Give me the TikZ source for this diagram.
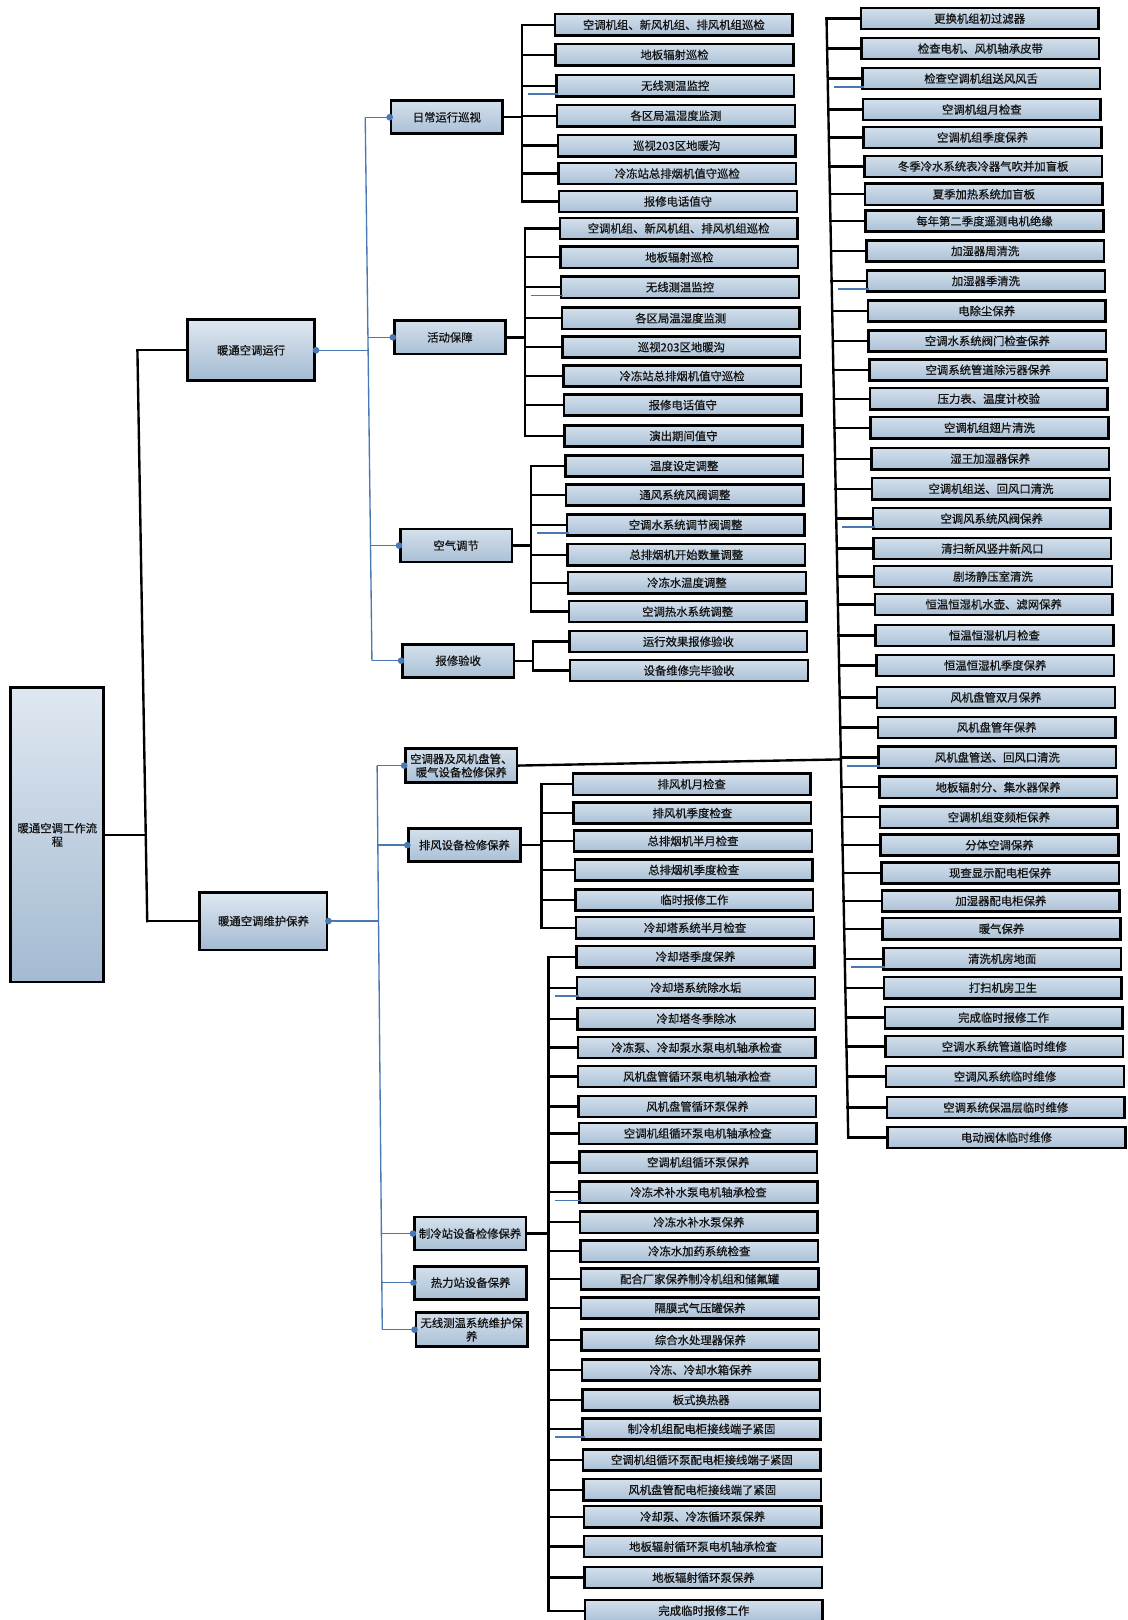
\documentclass[tikz,border=0pt]{standalone}
\usepackage{fontspec}
\setmainfont{Noto Sans CJK SC}[FakeBold=0.7]
\usetikzlibrary{calc}
\definecolor{fillhi}{HTML}{D4E0EC}
\definecolor{filllo}{HTML}{AAC0D6}
\definecolor{bighi}{HTML}{DFE8F1}
\definecolor{biglo}{HTML}{A3BAD1}
\definecolor{linkblue}{HTML}{4A78B5}
\definecolor{inkc}{HTML}{141414}
\tikzset{
  leafbox/.style={draw=black, line width=2.4pt, top color=fillhi, bottom color=filllo, minimum width=230pt, minimum height=20.5pt, inner sep=0pt, anchor=west, font=\fontsize{11}{12}\selectfont, text=inkc},
  midbox/.style={draw=black, line width=2.6pt, top color=fillhi, bottom color=filllo, minimum width=108pt, minimum height=32pt, inner sep=1pt, text width=105pt, align=center, font=\fontsize{11}{13}\selectfont, text=inkc},
  bigbox/.style={draw=black, line width=2.8pt, top color=bighi, bottom color=biglo, inner sep=1pt, align=center, font=\fontsize{11}{13}\selectfont, text=inkc},
  blk/.style={draw=black, line width=2.3pt, line cap=rect},
  bl/.style={draw=linkblue, line width=1.3pt},
  bdot/.style={circle, fill=linkblue, inner sep=0pt, minimum size=6.5pt},
  bluetick/.style={draw=linkblue, line width=1.8pt}
}
\begin{document}
\begin{tikzpicture}[x=1pt, y=-1pt]
\fill[white] (0,0) rectangle (1091,1568);
\useasboundingbox (0,0) rectangle (1091,1568);

% ---------- root and level 1 ----------
\node[bigbox, minimum width=90pt, minimum height=285pt, text width=84pt] (root) at (55.5,808) {暖通空调工作流\\程};
\node[bigbox, minimum width=123pt, minimum height=59pt] (ra) at (243,339) {暖通空调运行};
\node[bigbox, minimum width=123pt, minimum height=56pt] (rb) at (255,891.5) {暖通空调维护保养};

\coordinate (kt) at (133,339);
\coordinate (km) at (141,808);
\coordinate (kb) at (142.5,891.5);
\draw[blk] (kt) -- (kb);
\draw[blk] (kt) -- (ra.west);
\draw[blk] (kb) -- (rb.west);
\draw[blk] (root.east) -- (km);

% ---------- level 2 ----------
\node[midbox] (m1) at (432.5,113.5) {日常运行巡视};
\node[midbox] (m2) at (435.5,326.5) {活动保障};
\node[midbox] (m3) at (441.5,528) {空气调节};
\node[midbox] (m4) at (443.5,639.5) {报修验收};
\node[midbox, minimum height=33pt] (n1) at (446.5,741) {空调器及风机盘管、\\暖气设备检修保养};
\node[midbox] (n2) at (449.5,818) {排风设备检修保养};
\node[midbox] (n3) at (455,1194) {制冷站设备检修保养};
\node[midbox] (n4) at (455.5,1241.5) {热力站设备保养};
\node[midbox, minimum height=33pt] (n5) at (456.5,1287) {无线测温系统维护保\\养};

% blue links, run branch
\coordinate (u1) at (353.5,113.5);
\coordinate (u2) at (356.1,326.5);
\coordinate (u0) at (356.3,339);
\coordinate (u3) at (358.6,528);
\coordinate (u4) at (360,639.5);
\draw[bl] (u1) -- (u4);
\draw[bl] (ra.east) -- (u0);
\foreach \k in {1,2,3,4} { \draw[bl] (u\k) -- (m\k.west); }

% blue links, maintenance branch
\coordinate (s1) at (365,741);
\coordinate (s2) at (365.7,818);
\coordinate (s0) at (366.4,891.5);
\coordinate (s3) at (369.1,1194);
\coordinate (s4) at (369.6,1241.5);
\coordinate (s5) at (370,1287);
\draw[bl] (s1) -- (s5);
\draw[bl] (rb.east) -- (s0);
\foreach \k in {1,...,5} { \draw[bl] (s\k) -- (n\k.west); }

% ---------- leaves: 日常运行巡视 ----------
\foreach \yy/\lbl [count=\i] in {24/空调机组、新风机组、排风机组巡检,53/地板辐射巡检,83/无线测温监控,112/各区局温湿度监测,141/巡视203区地暖沟,168/冷冻站总排烟机值守巡检,195/报修电话值守}{
  \pgfmathsetmacro{\xl}{536+0.0235*(\yy-24)}
  \node[leafbox] (d\i) at (\xl,\yy) {\lbl};
  \coordinate (dj\i) at (505,\yy);
  \draw[blk] (dj\i) -- (d\i.west);
}
\draw[blk] (dj1) -- (dj7);
\draw[blk] (m1.east) -- (m1.east -| dj1);

% ---------- leaves: 活动保障 ----------
\foreach \yy/\lbl [count=\i] in {221/空调机组、新风机组、排风机组巡检,249/地板辐射巡检,278/无线测温监控,308/各区局温湿度监测,336/巡视203区地暖沟,364/冷冻站总排烟机值守巡检,392/报修电话值守,422/演出期间值守}{
  \pgfmathsetmacro{\xl}{536+0.0235*(\yy-24)}
  \node[leafbox] (h\i) at (\xl,\yy) {\lbl};
  \coordinate (hj\i) at (508,\yy);
  \draw[blk] (hj\i) -- (h\i.west);
}
\draw[blk] (hj1) -- (hj8);
\draw[blk] (m2.east) -- (m2.east -| hj1);

% ---------- leaves: 空气调节 ----------
\foreach \yy/\lbl [count=\i] in {451/温度设定调整,479/通风系统风阀调整,508/空调水系统调节阀调整,537/总排烟机开始数量调整,564/冷冻水温度调整,592/空调热水系统调整}{
  \pgfmathsetmacro{\xl}{536+0.0235*(\yy-24)}
  \node[leafbox] (k\i) at (\xl,\yy) {\lbl};
  \coordinate (kj\i) at (514,\yy);
  \draw[blk] (kj\i) -- (k\i.west);
}
\draw[blk] (kj1) -- (kj6);
\draw[blk] (m3.east) -- (m3.east -| kj1);

% ---------- leaves: 报修验收 ----------
\foreach \yy/\lbl [count=\i] in {621/运行效果报修验收,649/设备维修完毕验收}{
  \pgfmathsetmacro{\xl}{536+0.0235*(\yy-24)}
  \node[leafbox] (b\i) at (\xl,\yy) {\lbl};
  \coordinate (bj\i) at (516,\yy);
  \draw[blk] (bj\i) -- (b\i.west);
}
\draw[blk] (bj1) -- (bj2);
\draw[blk] (m4.east) -- (m4.east -| bj1);

% ---------- leaves: 排风设备检修保养 ----------
\foreach \yy/\lbl [count=\i] in {759/排风机月检查,787/排风机季度检查,814/总排烟机半月检查,842/总排烟机季度检查,871/临时报修工作,898/冷却塔系统半月检查}{
  \pgfmathsetmacro{\xl}{536+0.0235*(\yy-24)}
  \node[leafbox] (p\i) at (\xl,\yy) {\lbl};
  \coordinate (pj\i) at (524,\yy);
  \draw[blk] (pj\i) -- (p\i.west);
}
\draw[blk] (pj1) -- (pj6);
\draw[blk] (n2.east) -- (n2.east -| pj1);

% ---------- leaves: 制冷站设备检修保养 ----------
\foreach \yy/\lbl [count=\i] in {926/冷却塔季度保养,956/冷却塔系统除水垢,986/冷却塔冬季除冰,1014/冷冻泵、冷却泵水泵电机轴承检查,1042/风机盘管循环泵电机轴承检查,1071/风机盘管循环泵保养,1097/空调机组循环泵电机轴承检查,1125/空调机组循环泵保养,1154/冷冻术补水泵电机轴承检查,1183/冷冻水补水泵保养,1211/冷冻水加药系统检查,1238/配合厂家保养制冷机组和储氟罐,1266/隔膜式气压罐保养,1297/综合水处理器保养,1326/冷冻、冷却水箱保养,1355/板式换热器,1383/制冷机组配电柜接线端子紧固,1413/空调机组循环泵配电柜接线端子紧固,1442/风机盘管配电柜接线端了紧固,1468/冷却泵、冷冻循环泵保养,1497/地板辐射循环泵电机轴承检查,1527/地板辐射循环泵保养,1559/完成临时报修工作}{
  \pgfmathsetmacro{\xl}{557+0.0127*(\yy-926)}
  \node[leafbox] (z\i) at (\xl,\yy) {\lbl};
  \coordinate (zj\i) at (531,\yy);
  \draw[blk] (zj\i) -- (z\i.west);
}
\draw[blk] (zj1) -- (zj23);
\draw[blk] (n3.east) -- (n3.east -| zj1);

% ---------- right column ----------
\foreach \yy/\lbl [count=\i] in {18/更换机组初过滤器,47/检查电机、风机轴承皮带,76/检查空调机组送风风舌,106/空调机组月检查,133/空调机组季度保养,161/冬季冷水系统表冷器气吹并加盲板,188/夏季加热系统加盲板,214/每年第二季度遥测电机绝缘,243/加湿器周清洗,272/加湿器季清洗,301/电除尘保养,330/空调水系统阀门检查保养,358/空调系统管道除污器保养,386/压力表、温度计校验,414/空调机组翅片清洗,444/湿王加湿器保养,473/空调机组送、回风口清洗,502/空调风系统风阀保养,531/清扫新风竖井新风口,558/剧场静压室清洗,585/恒温恒湿机水壶、滤网保养,615/恒温恒湿机月检查,644/恒温恒湿机季度保养,675/风机盘管双月保养,704/风机盘管年保养,733/风机盘管送、回风口清洗,762/地板辐射分、集水器保养,791/空调机组变频柜保养,818/分体空调保养,845/现查显示配电柜保养,872/加湿器配电柜保养,899/暖气保养,928/清洗机房地面,956/打扫机房卫生,985/完成临时报修工作,1013/空调水系统管道临时维修,1042/空调风系统临时维修,1072/空调系统保温层临时维修,1101/电动阀体临时维修}{
  \pgfmathsetmacro{\xl}{832+0.024*(\yy-18)}
  \pgfmathsetmacro{\bx}{800+0.01939*(\yy-18)}
  \node[leafbox] (r\i) at (\xl,\yy) {\lbl};
  \coordinate (rj\i) at (\bx,\yy);
  \draw[blk] (rj\i) -- (r\i.west);
}
\draw[blk] (rj1) -- (rj39);
\coordinate (rjn) at (814,735);
\draw[blk] (n1.east) -- (rjn);

% ---------- small blue ticks ----------
\foreach \nm/\jn in {d3/dj3,h3/hj3,k3/kj3,z2/zj2,z9/zj9,z17/zj17,r3/rj3,r10/rj10,r18/rj18,r26/rj26,r33/rj33}{
  \draw[bluetick] ([xshift=6pt,yshift=-8pt]\jn) -- ([xshift=3pt,yshift=-8pt]\nm.west);
}

% ---------- blue dots ----------
\node[bdot] (dra) at (ra.east) {};
\node[bdot] (drb) at (rb.east) {};
\foreach \k in {1,2,3,4} { \node[bdot] (dm\k) at (m\k.west) {}; }
\foreach \k in {1,...,5} { \node[bdot] (dn\k) at (n\k.west) {}; }
\end{tikzpicture}
\end{document}
